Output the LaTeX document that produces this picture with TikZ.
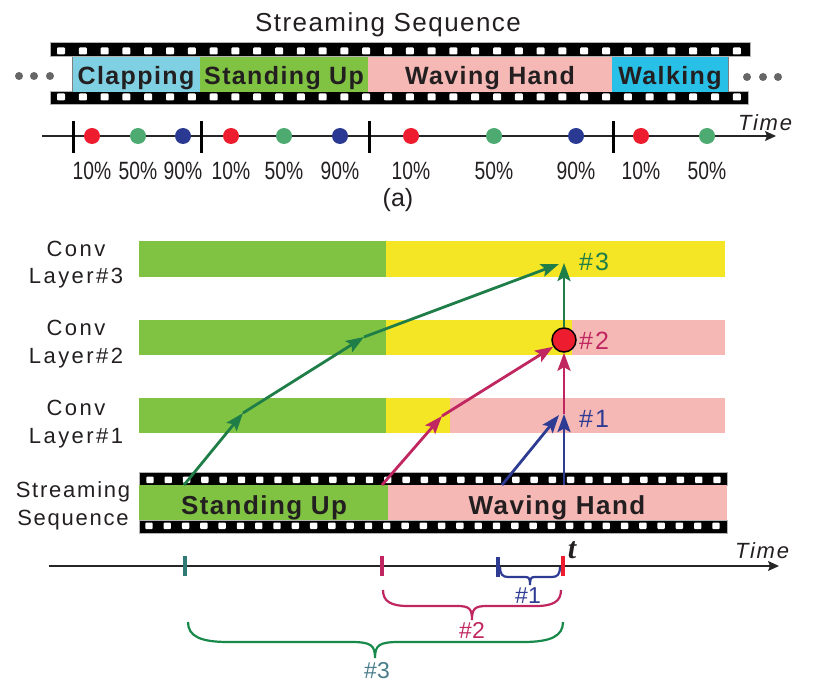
\documentclass[tikz,border=0pt]{standalone}
\usepackage{fontspec}
\setmainfont{Liberation Sans}
\newfontfamily\fA[LetterSpace=5.5]{Liberation Sans}
\newfontfamily\fB[LetterSpace=11]{Liberation Sans}
\newfontfamily\fC[LetterSpace=8]{Liberation Sans}
\newfontfamily\fP[FakeStretch=0.77]{Liberation Sans}
\newfontfamily\serfont{Liberation Serif}
\usetikzlibrary{arrows.meta}

\definecolor{barGreen}{HTML}{80C342}
\definecolor{barYellow}{HTML}{F5E625}
\definecolor{barPink}{HTML}{F5B8B5}
\definecolor{clapBlue}{HTML}{7FD0E2}
\definecolor{walkBlue}{HTML}{29C0E8}
\definecolor{dotRed}{HTML}{ED1C2E}
\definecolor{dotGreen}{HTML}{4DAA70}
\definecolor{dotBlue}{HTML}{2A3A92}
\definecolor{arrGreen}{HTML}{1F7E48}
\definecolor{arrMag}{HTML}{C02660}
\definecolor{arrBlue}{HTML}{2D3B93}
\definecolor{tickTeal}{HTML}{2F7A74}
\definecolor{braceGreen}{HTML}{17894A}
\definecolor{labTeal}{HTML}{4A7D8C}
\definecolor{txt}{HTML}{231F20}

\tikzset{
  arr/.style={line width=2.8pt, -{Stealth[length=18pt,width=13pt,inset=3.5pt]}},
  hole/.style={fill=white, rounded corners=1pt},
  pdot/.style={circle, inner sep=0pt, minimum size=16pt},
  tickmark/.style={line width=4pt},
  bracepath/.style={line width=2.2pt},
  lbl/.style={anchor=base, inner sep=0pt, text=txt},
}

% brace: xa, xb, xm, y0, y1, y2, k
\newcommand\mybrace[7]{%
  (#1,#4) .. controls (#1,{#5-0.3*(#5-#4)}) and ({#1+0.3*#7},#5) .. ({#1+#7},#5)
  -- ({#3-0.6*#7},#5) .. controls ({#3-0.1*#7},#5) and (#3,{#5+0.2*(#6-#5)}) .. (#3,#6)
  .. controls (#3,{#5+0.2*(#6-#5)}) and ({#3+0.1*#7},#5) .. ({#3+0.6*#7},#5)
  -- ({#2-#7},#5) .. controls ({#2-0.3*#7},#5) and (#2,{#5-0.3*(#5-#4)}) .. (#2,#4)}

\begin{document}
\begin{tikzpicture}[x=1pt,y=-1pt]
\useasboundingbox (0,0) rectangle (821,684);

% ---------------- (a) ----------------
\node[lbl] (title) at (388,32) {\fontsize{26}{30}\selectfont\fA Streaming Sequence};

% film strip (a)
\fill[black, draw=gray!60, line width=1pt] (50,43) rectangle (750,57);
\fill[black, draw=gray!60, line width=1pt] (50,92) rectangle (748,105);
\foreach \i in {0,...,31} {
  \fill[hole] ({61+\i*21.8-4},47.5) rectangle +(8,7);
  \fill[hole] ({61+\i*21.8-4},93.5) rectangle +(8,7);
}
\fill[clapBlue] (72,57) rectangle (200,92);
\fill[barGreen] (200,57) rectangle (368,92);
\fill[barPink] (368,57) rectangle (612,92);
\fill[walkBlue] (612,57) rectangle (728,92);
\draw[gray, line width=0.8pt] (72,57) -- (72,92) (728,57) -- (728,92);
\begin{scope}[every node/.style={lbl}, font=\fontsize{25}{30}\selectfont\fA\bfseries]
\node (clap) at (136,85) {Clapping};
\node (stand) at (284,85) {Standing Up};
\node (wave) at (490,85) {Waving Hand};
\node (walk) at (670,85) {Walking};
\end{scope}
\foreach \x in {19,34,50} \fill[gray!80!black] (\x,76) circle (4);
\foreach \x in {747,763,778} \fill[gray!80!black] (\x,77) circle (4);

% timeline (a)
\coordinate (ta0) at (42,136);
\coordinate (ta1) at (776,136);
\draw[line width=1.3pt, -{Stealth[length=11pt,width=10pt,inset=2pt]}, black!85] (ta0) -- (ta1);
\foreach \x in {73,201,369,613} \draw[black, line width=3pt] (\x,121) -- (\x,153);
\foreach \x/\c/\t in {92/dotRed/10\%,138/dotGreen/50\%,183/dotBlue/90\%,231/dotRed/10\%,284/dotGreen/50\%,340/dotBlue/90\%,411/dotRed/10\%,494/dotGreen/50\%,576/dotBlue/90\%,641/dotRed/10\%,707/dotGreen/50\%} {
  \node[pdot, fill=\c] at (\x,136) {};
  \node[lbl] at (\x,180) {\fontsize{25}{30}\selectfont\fP \t};
}
\node[lbl] (timeA) at (765,131) {\fontsize{22}{26}\selectfont\fC\itshape Time};
\node[lbl] (alab) at (398,207) {\fontsize{25}{30}\selectfont (a)};

% ---------------- (b) ----------------
% bars
\fill[barGreen] (139,241) rectangle (386,277);
\fill[barYellow] (386,241) rectangle (725,277);
\fill[barGreen] (139,320) rectangle (386,355);
\fill[barYellow] (386,320) rectangle (572,355);
\fill[barPink] (572,320) rectangle (725,355);
\fill[barGreen] (139,398) rectangle (386,433);
\fill[barYellow] (386,398) rectangle (450,433);
\fill[barPink] (450,398) rectangle (725,433);

\begin{scope}[every node/.style={lbl, align=center}, font=\fontsize{22}{27}\selectfont\fB]
\node (c3a) at (76,257) {Conv};
\node (c3b) at (76,284) {Layer\#3};
\node (c2a) at (76,335) {Conv};
\node (c2b) at (76,363) {Layer\#2};
\node (c1a) at (76,415) {Conv};
\node (c1b) at (76,443) {Layer\#1};
\node (s1) at (73,497) {\fC Streaming};
\node (s2) at (73,525) {\fC Sequence};
\end{scope}

% film strip (b)
\fill[black, draw=gray!60, line width=1pt] (139,472) rectangle (727,485);
\fill[black, draw=gray!60, line width=1pt] (139,520) rectangle (727,533);
\foreach \i in {0,...,31} {
  \fill[hole] ({150+\i*18.29-3.7},476.5) rectangle +(7.4,6.6);
  \fill[hole] ({149+\i*18.29-3.7},522.5) rectangle +(7.4,6.6);
}
\fill[barGreen] (139,485) rectangle (388,520);
\fill[barPink] (388,485) rectangle (727,520);
\begin{scope}[every node/.style={lbl}, font=\fontsize{26}{30}\selectfont\fA\bfseries]
\node (standB) at (264,514) {Standing Up};
\node (waveB) at (557,514) {Waving Hand};
\end{scope}

% arrows
\node[circle, fill=dotRed, draw=black, line width=1.5pt, minimum size=24pt, inner sep=0pt] (circ) at (564,340) {};
\coordinate (g0) at (184,485);
\coordinate (g1) at (243,413);
\coordinate (g2) at (364,337);
\coordinate (g3) at (559,264);
\coordinate (top3) at (564,263);
\coordinate (m0) at (382,485);
\coordinate (m1) at (442,416);
\coordinate (v1) at (564,414);
\coordinate (b0) at (502,485);
\coordinate (b1) at (559,415);
\coordinate (v0) at (564,485);

\draw[arr, arrGreen] (g0) -- (g1);
\draw[arr, arrGreen] (g1) -- (g2);
\draw[arr, arrGreen] (g2) -- (g3);
\draw[arr, arrGreen] (circ) -- (top3);
\draw[arr, arrMag] (m0) -- (m1);
\draw[arr, arrMag] (m1) -- (circ);
\draw[arr, arrMag] (v1) -- (circ);
\draw[arr, arrBlue] (b0) -- (b1);
\draw[arr, arrBlue] (v0) -- (v1);

\begin{scope}[every node/.style={anchor=base west, inner sep=0pt}, font=\fontsize{25}{30}\selectfont\fC]
\node[text=arrGreen] (h3) at (579,271) {\#3};
\node[text=arrMag] (h2) at (579,349) {\#2};
\node[text=arrBlue] (h1) at (579,427) {\#1};
\end{scope}

% timeline (b)
\coordinate (tb0) at (49,566);
\coordinate (tb1) at (779,566);
\draw[line width=1.3pt, -{Stealth[length=11pt,width=10pt,inset=2pt]}, black!85] (tb0) -- (tb1);
\draw[tickmark, tickTeal] (185,556) -- (185,576);
\draw[tickmark, arrMag] (382,556) -- (382,576);
\draw[tickmark, arrBlue] (498,557) -- (498,577);
\draw[tickmark, dotRed] (563,556) -- (563,576);
\node[lbl] (tlab) at (572,558) {\fontsize{30}{34}\selectfont\serfont\bfseries\itshape t};
\node[lbl] (timeB) at (762,558) {\fontsize{22}{26}\selectfont\fC\itshape Time};

% braces
\draw[bracepath, arrBlue] \mybrace{500}{560}{530}{567}{577}{585}{8};
\draw[bracepath, arrMag] \mybrace{383}{561}{472}{590}{606}{620}{25};
\draw[bracepath, braceGreen] \mybrace{188}{563}{375}{622}{642}{658}{40};
\begin{scope}[every node/.style={anchor=base, inner sep=0pt}, font=\fontsize{23}{27}\selectfont]
\node[text=arrBlue] (n1) at (528,603) {\#1};
\node[text=arrMag] (n2) at (472,638) {\#2};
\node[text=labTeal] (n3) at (377,678) {\#3};
\end{scope}
\end{tikzpicture}
\end{document}
